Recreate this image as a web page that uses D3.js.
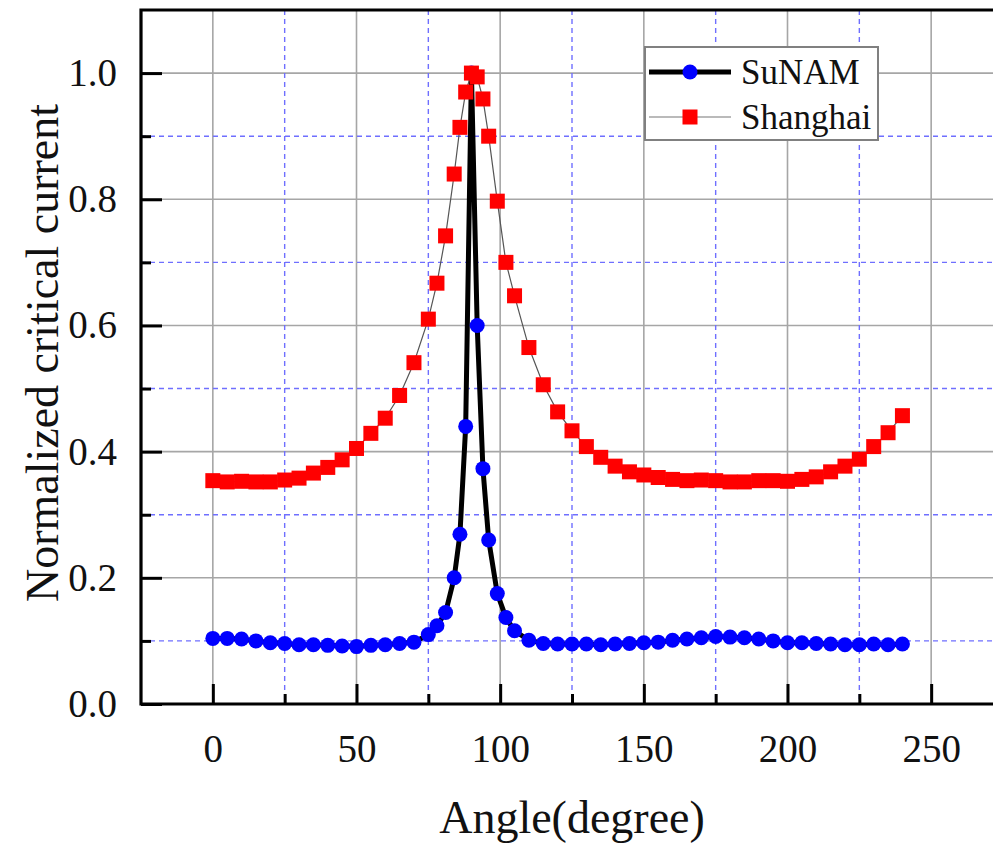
<!DOCTYPE html>
<html>
<head>
<meta charset="utf-8">
<script src="https://cdn.jsdelivr.net/npm/d3@7"></script>
<style>
body { margin: 0; background: #fff; }
text { font-family: "Liberation Serif", "Times New Roman", serif; fill: #111; }
</style>
</head>
<body>
<div id="canvas"></div>
<script>
// angle.js

var width = 993;
var height = 845;

var angles = [0, 5, 10, 15, 20, 25, 30, 35, 40, 45, 50, 55, 60, 65, 70, 75, 78, 81, 84, 86, 88, 90, 92, 94, 96, 99, 102, 105, 110, 115,
	120, 125, 130, 135, 140, 145, 150, 155, 160, 165, 170, 175, 180, 185, 190, 195, 200, 205, 210, 215, 220, 225, 230, 235, 240];

var sunam = [0.104, 0.104, 0.103, 0.100, 0.097, 0.096, 0.094, 0.094, 0.093, 0.092, 0.091, 0.093, 0.094, 0.096, 0.098, 0.110, 0.124, 0.145, 0.200, 0.269, 0.440, 1.000, 0.600, 0.373, 0.260, 0.175, 0.137, 0.116, 0.101, 0.096,
	0.095, 0.095, 0.095, 0.094, 0.095, 0.096, 0.097, 0.098, 0.101, 0.103, 0.105, 0.107, 0.106, 0.105, 0.103, 0.100, 0.097, 0.097, 0.096, 0.095, 0.094, 0.094, 0.095, 0.094, 0.095];

var shanghai = [0.354, 0.352, 0.353, 0.352, 0.352, 0.355, 0.358, 0.366, 0.375, 0.387, 0.405, 0.429, 0.453, 0.489, 0.541, 0.610, 0.667, 0.742, 0.840, 0.914, 0.970, 1.000, 0.994, 0.959, 0.900, 0.797, 0.700, 0.647, 0.565, 0.506,
	0.463, 0.433, 0.408, 0.391, 0.377, 0.368, 0.363, 0.359, 0.356, 0.354, 0.355, 0.354, 0.352, 0.352, 0.354, 0.354, 0.353, 0.356, 0.360, 0.368, 0.377, 0.388, 0.408, 0.430, 0.457];

var xMajor = [0, 50, 100, 150, 200, 250];
var xMinor = [25, 75, 125, 175, 225];
var yMajor = [0.0, 0.2, 0.4, 0.6, 0.8, 1.0];
var yMinor = [0.1, 0.3, 0.5, 0.7, 0.9];

var seriesNames = ["SuNAM", "Shanghai"];

// plot box (right side runs past the page edge)
var pL = 141, pR = 1003, pT = 10, pB = 704;

var x = d3.scaleLinear().domain([-25, 275]).range([pL, pR]);
var y = d3.scaleLinear().domain([0, 1.1]).range([pB, pT]);

var svg = d3.select("#canvas").append("svg")
	.attr("width", width)
	.attr("height", height);

// grid
svg.append("g").selectAll("line")
	.data(xMajor)
	.enter()
	.append("line")
	.attr("x1", function(d){ return x(d); })
	.attr("x2", function(d){ return x(d); })
	.attr("y1", pT).attr("y2", pB)
	.style("stroke", "#a6a6a6").style("stroke-width", 1.6);

svg.append("g").selectAll("line")
	.data(yMajor.slice(1))
	.enter()
	.append("line")
	.attr("x1", pL).attr("x2", width)
	.attr("y1", function(d){ return y(d); })
	.attr("y2", function(d){ return y(d); })
	.style("stroke", "#a6a6a6").style("stroke-width", 1.6);

svg.append("g").selectAll("line")
	.data(xMinor)
	.enter()
	.append("line")
	.attr("x1", function(d){ return x(d); })
	.attr("x2", function(d){ return x(d); })
	.attr("y1", pT).attr("y2", pB)
	.style("stroke", "#6f6fff").style("stroke-width", 1.4).style("stroke-dasharray", "5,4");

svg.append("g").selectAll("line")
	.data(yMinor)
	.enter()
	.append("line")
	.attr("x1", pL).attr("x2", width)
	.attr("y1", function(d){ return y(d); })
	.attr("y2", function(d){ return y(d); })
	.style("stroke", "#6f6fff").style("stroke-width", 1.4).style("stroke-dasharray", "5,4");

// axes (ticks point inward)
var xAxis = d3.axisBottom(x).tickValues(xMajor).tickSize(-20).tickPadding(30).tickFormat(d3.format("d"));
var xAxisMinor = d3.axisBottom(x).tickValues(xMinor).tickSize(-10).tickFormat("");
var yAxis = d3.axisLeft(y).tickValues(yMajor).tickSize(-21).tickPadding(24).tickFormat(d3.format(".1f"));
var yAxisMinor = d3.axisLeft(y).tickValues(yMinor).tickSize(-10).tickFormat("");

function styleAxis(g){
	g.select(".domain").remove();
	g.selectAll(".tick line").style("stroke", "#000").style("stroke-width", 3);
	g.selectAll("text").style("font-size", "39px").style("font-family", "Liberation Serif").attr("fill", "#111");
}

svg.append("g").attr("transform", "translate(0," + pB + ")").call(xAxis).call(styleAxis);
svg.append("g").attr("transform", "translate(0," + pB + ")").call(xAxisMinor).call(styleAxis);
svg.append("g").attr("transform", "translate(" + pL + ",0)").call(yAxis).call(styleAxis);
svg.append("g").attr("transform", "translate(" + pL + ",0)").call(yAxisMinor).call(styleAxis);

// frame: top, left, bottom
svg.append("path")
	.attr("d", "M" + width + "," + pT + "H" + pL + "V" + pB + "H" + width)
	.style("fill", "none").style("stroke", "#000").style("stroke-width", 3.2);

// series
var pts1 = angles.map(function(a, i){ return [a, sunam[i]]; });
var pts2 = angles.map(function(a, i){ return [a, shanghai[i]]; });

var line = d3.line()
	.x(function(d){ return x(d[0]); })
	.y(function(d){ return y(d[1]); });

svg.append("path")
	.datum(pts1)
	.attr("d", line)
	.style("fill", "none").style("stroke", "#000").style("stroke-width", 5).style("stroke-linejoin", "miter");

svg.append("g").selectAll("circle")
	.data(pts1)
	.enter()
	.append("circle")
	.attr("cx", function(d){ return x(d[0]); })
	.attr("cy", function(d){ return y(d[1]); })
	.attr("r", 7.5)
	.style("fill", "#0000ff");

svg.append("path")
	.datum(pts2)
	.attr("d", line)
	.style("fill", "none").style("stroke", "#555").style("stroke-width", 1.2);

svg.append("g").selectAll("rect")
	.data(pts2)
	.enter()
	.append("rect")
	.attr("x", function(d){ return x(d[0]) - 7.5; })
	.attr("y", function(d){ return y(d[1]) - 7.5; })
	.attr("width", 15).attr("height", 15)
	.style("fill", "#ff0000");

// legend
var lg = svg.append("g").attr("transform", "translate(645,47)");
lg.append("rect")
	.attr("width", 233).attr("height", 93)
	.style("fill", "#fff").style("stroke", "#808080").style("stroke-width", 2);

lg.append("line").attr("x1", 4).attr("x2", 86).attr("y1", 25).attr("y2", 25)
	.style("stroke", "#000").style("stroke-width", 5);
lg.append("circle").attr("cx", 45).attr("cy", 25).attr("r", 7.5).style("fill", "#0000ff");

lg.append("line").attr("x1", 4).attr("x2", 86).attr("y1", 70).attr("y2", 70)
	.style("stroke", "#777").style("stroke-width", 1.2);
lg.append("rect").attr("x", 37.5).attr("y", 62.5).attr("width", 15).attr("height", 15).style("fill", "#ff0000");

lg.selectAll("text.name")
	.data(seriesNames)
	.enter()
	.append("text")
	.attr("class", "name")
	.attr("x", 96)
	.attr("y", function(d, i){ return 25 + i * 45; })
	.attr("dy", "0.35em")
	.style("font-size", "35px")
	.text(function(d){ return d; });

// axis titles
svg.append("text")
	.attr("x", (pL + pR) / 2)
	.attr("y", 833)
	.attr("text-anchor", "middle")
	.style("font-size", "46px")
	.text("Angle(degree)");

svg.append("text")
	.attr("transform", "translate(58," + ((pT + pB) / 2 - 4) + ") rotate(-90)")
	.attr("text-anchor", "middle")
	.style("font-size", "46px")
	.text("Normalized critical current");
</script>
</body>
</html>
